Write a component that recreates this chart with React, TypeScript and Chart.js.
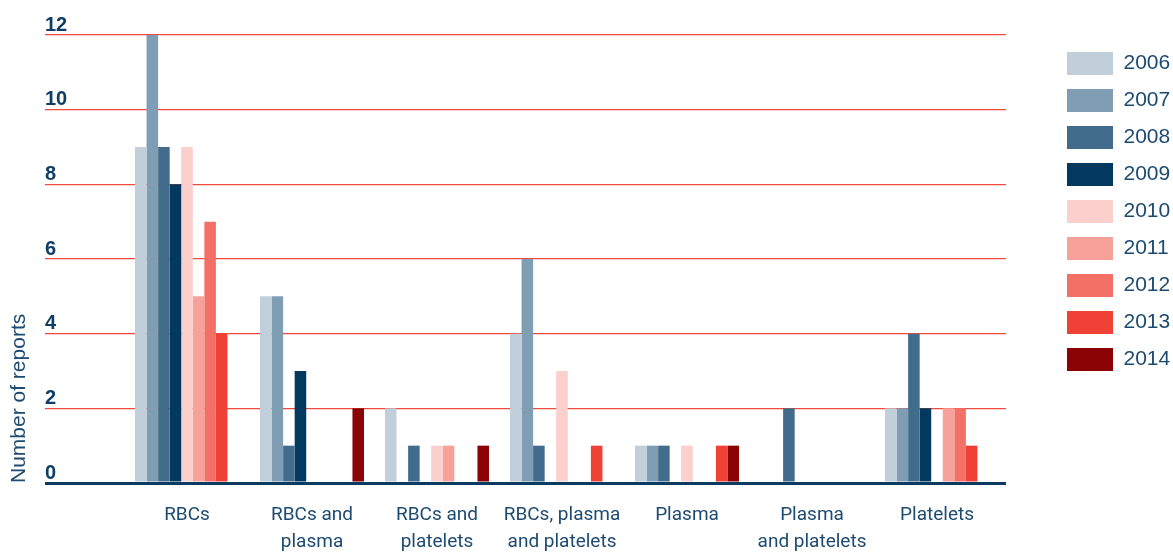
import React, { useEffect, useRef } from "react";
import { Chart, registerables } from "chart.js";

Chart.register(...registerables);

const categoryLines: string[][] = [
  ["RBCs"],
  ["RBCs and", "plasma"],
  ["RBCs and", "platelets"],
  ["RBCs, plasma", "and platelets"],
  ["Plasma"],
  ["Plasma", "and platelets"],
  ["Platelets"],
];

const years = ["2006", "2007", "2008", "2009", "2010", "2011", "2012", "2013", "2014"];

const v2006 = [9, 5, 2, 4, 1, 0, 2];
const v2007 = [12, 5, 0, 6, 1, 0, 2];
const v2008 = [9, 1, 1, 1, 1, 2, 4];
const v2009 = [8, 3, 0, 0, 0, 0, 2];
const v2010 = [9, 0, 1, 3, 1, 0, 0];
const v2011 = [5, 0, 1, 0, 0, 0, 2];
const v2012 = [7, 0, 0, 0, 0, 0, 2];
const v2013 = [4, 0, 0, 1, 1, 0, 1];
const v2014 = [0, 2, 1, 0, 1, 0, 0];

const seriesValues = [v2006, v2007, v2008, v2009, v2010, v2011, v2012, v2013, v2014];

const colors = [
  "#c1cfda",
  "#7f9db3",
  "#416c8c",
  "#03385f",
  "#fbcfcc",
  "#f6a199",
  "#f37066",
  "#ef4136",
  "#8b0304",
];

const yTicks = [0, 2, 4, 6, 8, 10, 12];

const NAVY = "#1d4a70";
const LABEL_FONT = "Roboto, 'Liberation Sans', sans-serif";
const REGULAR = "'Liberation Sans', Arial, sans-serif";

export default function App() {
  const canvasRef = useRef<HTMLCanvasElement | null>(null);

  useEffect(() => {
    document.body.style.margin = "0";
    const canvas = canvasRef.current;
    if (!canvas) return;

    const datasets = years.map((year, di) => ({
      label: year,
      data: seriesValues[di].map((v, i) => ({ x: i, y: v })),
      backgroundColor: colors[di],
      borderColor: colors[di],
      borderWidth: 0,
      categoryPercentage: 0.832,
      barPercentage: 1,
      yAxisID: "y",
    }));

    const chart = new Chart(canvas, {
      type: "bar",
      data: { datasets },
      options: {
        animation: false,
        responsive: false,
        maintainAspectRatio: false,
        layout: { padding: { left: 0, top: 35, right: 0, bottom: 0 } },
        plugins: {
          tooltip: { enabled: false },
          legend: {
            position: "right",
            align: "start",
            maxWidth: 120,
            title: {
              display: true,
              text: "",
              padding: 0,
              font: { size: 1, lineHeight: "3px" },
            },
            labels: {
              boxWidth: 46,
              boxHeight: 23,
              padding: 14,
              color: NAVY,
              font: { family: REGULAR, size: 21 },
            },
          },
        },
        scales: {
          x: {
            type: "linear",
            offset: false,
            min: -1.136,
            max: 6.552,
            grid: { display: false, offset: false },
            border: { display: false },
            afterBuildTicks: (scale: any) => {
              scale.ticks = categoryLines.map((_, i) => ({ value: i }));
            },
            afterFit: (scale: any) => {
              scale.height = 70;
            },
            ticks: {
              autoSkip: false,
              maxRotation: 0,
              minRotation: 0,
              padding: 11,
              color: NAVY,
              font: { family: LABEL_FONT, size: 19, lineHeight: "27px" },
              callback: (value: any) => {
                const idx = Number(value);
                return Number.isInteger(idx) && categoryLines[idx] ? categoryLines[idx] : "";
              },
            },
          },
          y: {
            position: "left",
            min: 0,
            max: 12,
            afterBuildTicks: (scale: any) => {
              scale.ticks = yTicks.map((v) => ({ value: v }));
            },
            afterFit: (scale: any) => {
              scale.width = 45;
            },
            border: { display: false },
            grid: {
              drawTicks: false,
              color: (ctx: any) => (ctx.tick && ctx.tick.value === 0 ? "#0c3b62" : "#f04a3e"),
              lineWidth: (ctx: any) => (ctx.tick && ctx.tick.value === 0 ? 3 : 1.3),
            },
            ticks: {
              mirror: true,
              padding: 0,
              labelOffset: -10,
              color: "#0f3d63",
              font: { family: REGULAR, size: 20, weight: "bold" },
            },
            title: {
              display: true,
              text: "Number of reports",
              align: "start",
              color: NAVY,
              font: { family: REGULAR, size: 21 },
              padding: { top: 7, bottom: 0 },
            },
          },
          yR: {
            position: "right",
            min: 0,
            max: 12,
            afterFit: (scale: any) => {
              scale.width = 47;
            },
            border: { display: false },
            grid: { display: false },
            ticks: { display: false },
          },
        },
      } as any,
    });

    return () => {
      chart.destroy();
    };
  }, []);

  return (
    <div style={{ width: 1173, height: 553, position: "relative" }}>
      <canvas ref={canvasRef} width={1173} height={553} />
    </div>
  );
}
